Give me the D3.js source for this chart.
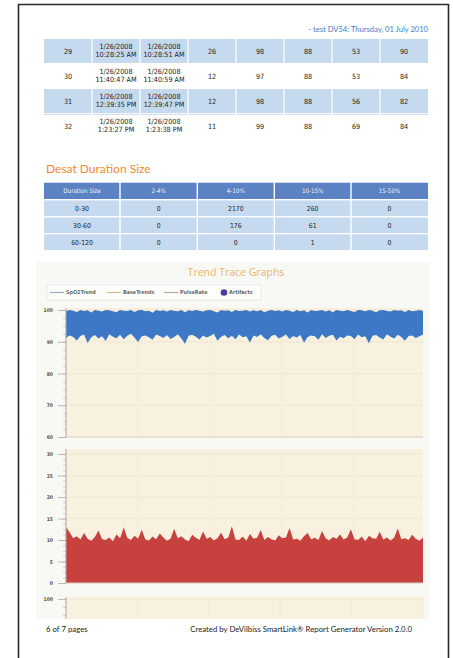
<!DOCTYPE html>
<html>
<head>
<meta charset="utf-8">
<script src="https://cdn.jsdelivr.net/npm/d3@7/dist/d3.min.js"></script>
<style>
  body { margin: 0; background: #fff; }
  svg { display: block; }
</style>
</head>
<body>
<div id="page"></div>
<script>
// ---- data ----
const headerText = '- test DV54: Thursday, 01 July 2010';

const eventNo = [29, 30, 31, 32];
const startTimes = ['10:28:25 AM', '11:40:47 AM', '12:39:35 PM', '1:23:27 PM'];
const endTimes = ['10:28:51 AM', '11:40:59 AM', '12:39:47 PM', '1:23:38 PM'];
const eventDate = '1/26/2008';
const durations = [26, 12, 12, 11];
const baseline = [98, 97, 98, 99];
const threshold = [88, 88, 88, 88];
const nadir = [53, 53, 56, 69];
const pulse = [90, 84, 82, 84];

const desatTitle = 'Desat Duration Size';
const durationSizes = ['0-30', '30-60', '60-120'];
const desatRanges = ['2-4%', '4-10%', '10-15%', '15-50%'];
const desatCounts = [
  [0, 2170, 260, 0],
  [0, 176, 61, 0],
  [0, 0, 1, 0]
];

const trendTitle = 'Trend Trace Graphs';
const legendNames = ['SpO2Trend', 'BaseTrends', 'PulseRate', 'Artifacts'];

const spo2Ticks = [60, 70, 80, 90, 100];
const rateTicks = [0, 5, 10, 15, 20, 25, 30];

// upper / lower envelope of the dense SpO2 trace
const spo2Max = [99.6,100,99.8,99.4,100,99.7,99.9,99.2,100,99.8,99.5,100,99.9,99.6,99.3,100,99.8,99.7,100,99.4,
  99.9,100,99.6,99.8,99.1,100,99.7,99.9,99.5,100,99.8,99.6,100,99.3,99.9,99.7,100,99.8,99.5,99.9,
  100,99.6,99.2,100,99.8,99.9,99.4,100,99.7,99.8,100,99.5,99.9,99.6,100,99.3,99.8,100,99.7,99.9,
  99.5,100,99.8,99.4,100,99.6,99.9,99.2,100,99.7,99.8,100,99.5,99.9,99.3,100,99.8,99.6,100,99.7,
  99.4,100,99.9,99.6,100,99.8,99.3,99.9,100,99.7,99.5,100,99.8,99.9,99.4,100,99.6,99.8,100,99.7];
const spo2Min = [91.2,92.0,91.5,90.4,91.8,92.3,89.6,91.4,92.1,91.0,91.7,90.2,92.4,91.6,91.1,92.2,90.8,91.9,92.5,91.3,
  89.9,91.7,92.0,91.4,90.6,92.3,91.8,91.2,92.1,90.9,91.5,92.4,91.0,89.4,91.9,92.2,91.6,90.7,92.0,91.3,
  91.8,92.5,90.3,91.6,92.1,91.1,91.9,90.8,92.3,91.4,91.7,89.8,92.0,91.5,92.4,91.2,90.5,91.9,92.2,91.0,
  91.6,92.3,90.9,91.8,91.3,92.1,89.7,91.5,92.0,91.7,90.6,92.4,91.2,91.9,92.2,90.4,91.6,91.1,92.0,91.8,
  90.8,92.3,91.4,91.7,89.5,91.9,92.1,91.3,90.7,92.4,91.6,91.0,92.2,91.5,90.3,91.8,92.0,91.2,91.7,92.3];
// top envelope of the desat-depth trace
const rateMax = [13.0,11.8,10.4,10.9,10.1,11.6,10.3,9.8,10.7,12.2,10.2,10.0,10.6,9.7,11.3,10.4,12.9,10.5,10.0,11.0,
  10.3,12.4,10.1,9.9,10.8,10.2,11.5,10.6,9.8,10.3,12.6,10.4,10.9,10.1,9.7,11.2,10.5,10.0,12.0,10.3,
  10.7,9.9,10.4,11.7,10.2,10.6,13.2,10.1,10.0,10.8,9.8,11.4,10.3,10.5,12.3,10.0,10.7,10.2,9.9,11.1,
  10.4,10.6,12.8,10.1,10.3,9.8,10.9,11.6,10.2,10.5,10.0,12.1,10.4,9.9,10.7,10.3,11.3,10.1,10.6,12.5,
  10.2,10.0,10.8,9.7,11.0,10.4,10.3,11.9,10.1,10.6,9.9,10.5,12.7,10.2,10.4,10.0,11.2,10.3,9.8,10.6];

// ---- page ----
const W = 453, H = 658;
const svg = d3.select('#page').append('svg')
  .attr('width', W).attr('height', H);

svg.append('rect').attr('width', W).attr('height', H).attr('fill', '#fff');

// page frame
svg.append('path')
  .attr('d', 'M18.5,' + H + 'V4.5H448.5V' + H)
  .attr('fill', 'none')
  .attr('stroke', '#2a2a2a')
  .attr('stroke-width', 1.6);

svg.append('text')
  .attr('x', 428).attr('y', 31.5)
  .attr('text-anchor', 'end')
  .attr('font-family', 'Lato, "Open Sans", sans-serif')
  .attr('font-size', 7.6)
  .attr('fill', '#4a7cc4')
  .text(headerText);

// ---- events table ----
const evCols = d3.scaleBand().domain(d3.range(8)).range([44, 428]);
const evRows = d3.scaleBand().domain(eventNo).range([39, 139]);
const tableFont = '"DejaVu Sans Condensed", "DejaVu Sans", sans-serif';

const evData = eventNo.map((n, i) => [
  [String(n)],
  [eventDate, startTimes[i]],
  [eventDate, endTimes[i]],
  [String(durations[i])],
  [String(baseline[i])],
  [String(threshold[i])],
  [String(nadir[i])],
  [String(pulse[i])]
]);

const evG = svg.append('g');
eventNo.forEach((n, i) => {
  const y0 = evRows(n);
  if (i % 2 === 0) {
    evG.selectAll(null).data(d3.range(8)).join('rect')
      .attr('x', c => evCols(c) + (c ? 0.6 : 0))
      .attr('y', y0)
      .attr('width', c => evCols.bandwidth() - (c ? 0.6 : 0) - (c < 7 ? 0.6 : 0))
      .attr('height', evRows.bandwidth() - 1)
      .attr('fill', '#c5d9ef');
  }
  evG.selectAll(null).data(evData[i]).join('text')
    .attr('x', (d, c) => evCols(c) + evCols.bandwidth() / 2)
    .attr('y', y0 + evRows.bandwidth() / 2 - 0.5)
    .attr('text-anchor', 'middle')
    .attr('font-family', tableFont)
    .attr('font-size', 7.2)
    .attr('fill', '#1e1e1e')
    .each(function (lines) {
      const t = d3.select(this);
      lines.forEach((s, k) => {
        t.append('tspan')
          .attr('x', t.attr('x'))
          .attr('dy', k === 0 ? (lines.length === 1 ? '0.35em' : '-0.25em') : '1.15em')
          .text(s);
      });
    });
});
// thin rule above the last row
evG.selectAll(null).data(d3.range(8)).join('rect')
  .attr('x', c => evCols(c) + (c ? 0.6 : 0))
  .attr('y', evRows(32) - 0.2)
  .attr('width', c => evCols.bandwidth() - (c ? 0.6 : 0) - (c < 7 ? 0.6 : 0))
  .attr('height', 1)
  .attr('fill', '#c5d9ef');

// ---- desat duration table ----
svg.append('text')
  .attr('x', 46).attr('y', 172.5)
  .attr('font-family', 'Lato, "Open Sans", sans-serif')
  .attr('font-size', 12)
  .attr('fill', '#f08a34')
  .text(desatTitle);

const dsX = d3.scaleBand().domain(d3.range(5)).range([44, 428]);
const dsColEdges = [44, 120, 197.3, 274.3, 351, 428];
const dsY = d3.scaleBand().domain(['head'].concat(durationSizes)).range([182.7, 250.7]);
const dsG = svg.append('g');

const dsRowsData = [['Duration Size'].concat(desatRanges)]
  .concat(durationSizes.map((s, r) => [s].concat(desatCounts[r].map(String))));

dsRowsData.forEach((row, r) => {
  const key = r === 0 ? 'head' : durationSizes[r - 1];
  const y0 = dsY(key);
  dsG.selectAll(null).data(row).join('rect')
    .attr('x', (d, c) => dsColEdges[c] + (c ? 0.7 : 0))
    .attr('y', y0 + (r ? 0.7 : 0))
    .attr('width', (d, c) => dsColEdges[c + 1] - dsColEdges[c] - (c ? 0.7 : 0) - (c < 4 ? 0.7 : 0))
    .attr('height', dsY.bandwidth() - (r ? 0.7 : 0) - 0.7)
    .attr('fill', r === 0 ? '#5b82c2' : '#c5d9ef');
  dsG.selectAll(null).data(row).join('text')
    .attr('x', (d, c) => (dsColEdges[c] + dsColEdges[c + 1]) / 2)
    .attr('y', y0 + dsY.bandwidth() / 2)
    .attr('dy', '0.35em')
    .attr('text-anchor', 'middle')
    .attr('font-family', tableFont)
    .attr('font-size', r === 0 ? 6.2 : 6.8)
    .attr('fill', r === 0 ? '#eef3fb' : '#1e1e1e')
    .text(d => d);
});

// ---- trend trace graphs ----
const panel = svg.append('g');
panel.append('rect')
  .attr('x', 36).attr('y', 262).attr('width', 394).attr('height', 357)
  .attr('fill', '#f8f8f5');

panel.append('text')
  .attr('x', 236).attr('y', 275.5)
  .attr('text-anchor', 'middle')
  .attr('font-family', '"Open Sans", sans-serif')
  .attr('font-size', 10.5)
  .attr('fill', '#ecb46a')
  .text(trendTitle);

// legend
const legG = panel.append('g');
legG.append('rect')
  .attr('x', 47).attr('y', 285).attr('width', 214).attr('height', 15)
  .attr('fill', '#fdfdfb').attr('stroke', '#e4e4e0').attr('stroke-width', 0.8);
const legX = d3.scalePoint().domain(legendNames).range([50, 221]);
const legColors = ['#9aaec8', '#d9b98c', '#a7b49a', '#4b3d98'];
legendNames.forEach((name, i) => {
  const x0 = legX(name);
  if (i < 3) {
    legG.append('line')
      .attr('x1', x0).attr('x2', x0 + 14)
      .attr('y1', 292.5).attr('y2', 292.5)
      .attr('stroke', legColors[i]).attr('stroke-width', 1.2);
    legG.append('text')
      .attr('x', x0 + 16).attr('y', 292.5).attr('dy', '0.35em')
      .attr('font-family', '"DejaVu Sans Condensed", sans-serif')
      .attr('font-size', 5.4).attr('font-weight', 'bold')
      .attr('fill', '#6a6a66')
      .text(name);
  } else {
    legG.append('circle')
      .attr('cx', x0 + 3).attr('cy', 292.5).attr('r', 3.3)
      .attr('fill', legColors[i]);
    legG.append('text')
      .attr('x', x0 + 8).attr('y', 292.5).attr('dy', '0.35em')
      .attr('font-family', '"DejaVu Sans Condensed", sans-serif')
      .attr('font-size', 5.4).attr('font-weight', 'bold')
      .attr('fill', '#6a6a66')
      .text(name);
  }
});

const plotLeft = 66, plotRight = 423;

function drawPlot(cfg) {
  const g = panel.append('g');
  const x = d3.scaleLinear().domain([0, cfg.n - 1]).range([plotLeft, plotRight]);
  const y = d3.scaleLinear().domain(cfg.domain).range(cfg.range);

  g.append('rect')
    .attr('x', plotLeft).attr('y', cfg.top)
    .attr('width', plotRight - plotLeft).attr('height', cfg.bottom - cfg.top)
    .attr('fill', '#f8f1df');

  // faint grid
  g.append('g').selectAll('line').data(cfg.ticks).join('line')
    .attr('x1', plotLeft).attr('x2', plotRight)
    .attr('y1', d => y(d)).attr('y2', d => y(d))
    .attr('stroke', '#efe6d0').attr('stroke-width', 0.8);
  g.append('g').selectAll('line').data(x.ticks(5)).join('line')
    .attr('x1', d => x(d)).attr('x2', d => x(d))
    .attr('y1', cfg.top).attr('y2', cfg.bottom)
    .attr('stroke', '#f1e9d6').attr('stroke-width', 0.8);

  if (cfg.band) {
    const area = d3.area()
      .x((d, i) => x(i))
      .y0(d => y(d[0]))
      .y1(d => y(d[1]));
    g.append('path')
      .datum(d3.zip(cfg.band[0], cfg.band[1]))
      .attr('d', area)
      .attr('fill', cfg.color);
  }
  if (cfg.fill) {
    const area = d3.area()
      .x((d, i) => x(i))
      .y0(y(cfg.domain[0]))
      .y1(d => y(d));
    g.append('path')
      .datum(cfg.fill)
      .attr('d', area)
      .attr('fill', cfg.color);
  }

  // baseline
  if (cfg.bottom < 618) {
    g.append('line')
      .attr('x1', plotLeft).attr('x2', plotRight)
      .attr('y1', cfg.bottom).attr('y2', cfg.bottom)
      .attr('stroke', '#d8d2c4').attr('stroke-width', 1);
  }

  // minor ticks
  const minor = d3.axisLeft(y).tickValues(cfg.minor).tickSize(3).tickFormat('');
  g.append('g').attr('transform', `translate(${plotLeft},0)`).call(minor)
    .call(s => s.select('.domain').remove())
    .call(s => s.selectAll('line').attr('stroke', '#b8b8b2').attr('stroke-width', 0.6));

  const axis = d3.axisLeft(y).tickValues(cfg.ticks).tickSize(8).tickPadding(5);
  g.append('g').attr('transform', `translate(${plotLeft},0)`).call(axis)
    .call(s => s.select('.domain').attr('d', `M0,${cfg.top}V${cfg.bottom}`)
      .attr('stroke', '#a9a9a3'))
    .call(s => s.selectAll('line').attr('stroke', '#a9a9a3').attr('stroke-width', 0.8))
    .call(s => s.selectAll('text')
      .attr('font-family', '"DejaVu Sans Condensed", sans-serif')
      .attr('font-size', 5)
      .attr('font-weight', 'bold')
      .attr('fill', '#555'));
  return g;
}

drawPlot({
  n: spo2Max.length,
  domain: [60, 100], range: [437, 310],
  top: 308, bottom: 437,
  ticks: spo2Ticks,
  minor: d3.range(60, 101, 2.5),
  band: [spo2Min, spo2Max],
  color: '#3c78c6'
});

drawPlot({
  n: rateMax.length,
  domain: [0, 30], range: [583, 454],
  top: 449, bottom: 583,
  ticks: rateTicks,
  minor: d3.range(0, 31, 1.25),
  fill: rateMax,
  color: '#c7413f'
});

// third graph, cut off by the page footer
const p3 = drawPlot({
  n: 2,
  domain: [60, 100], range: [726, 599],
  top: 597, bottom: 619,
  ticks: [100],
  minor: [97.5, 95]
});
p3.attr('clip-path', 'url(#p3clip)');
svg.append('clipPath').attr('id', 'p3clip')
  .append('rect').attr('x', 30).attr('y', 590).attr('width', 400).attr('height', 29);

// footer
svg.append('text')
  .attr('x', 46).attr('y', 632)
  .attr('font-family', 'Lato, "Open Sans", sans-serif')
  .attr('font-size', 7.8)
  .attr('fill', '#222')
  .text('6 of 7 pages');
svg.append('text')
  .attr('x', 412).attr('y', 632)
  .attr('text-anchor', 'end')
  .attr('font-family', 'Lato, "Open Sans", sans-serif')
  .attr('font-size', 7.8)
  .attr('fill', '#222')
  .text('Created by DeVilbiss SmartLink\u00ae Report Generator Version 2.0.0');
</script>
</body>
</html>
